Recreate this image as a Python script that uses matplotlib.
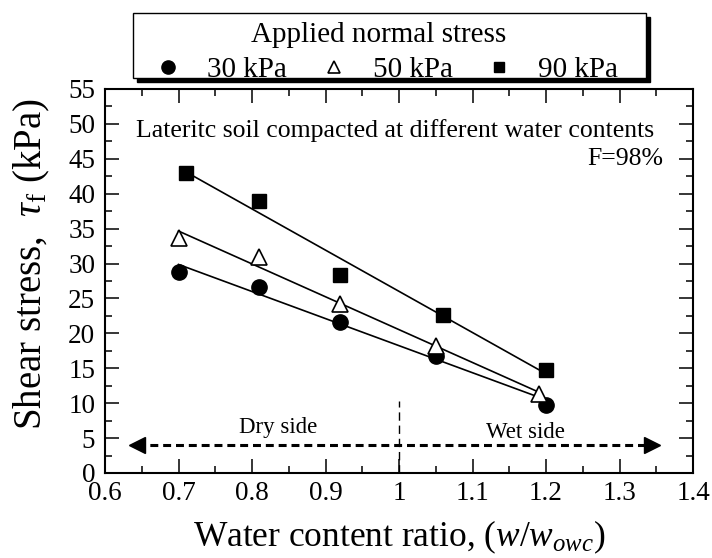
import numpy as np
import matplotlib
matplotlib.use("Agg")
import matplotlib.pyplot as plt
from matplotlib.lines import Line2D
from matplotlib.patches import Rectangle
from matplotlib.ticker import MultipleLocator

plt.rcParams['font.family'] = ['Liberation Serif', 'DejaVu Serif']
plt.rcParams['font.serif'] = ['Liberation Serif', 'DejaVu Serif']
plt.rcParams['mathtext.fontset'] = 'custom'
plt.rcParams['mathtext.rm'] = 'Liberation Serif'
plt.rcParams['mathtext.it'] = 'Liberation Serif:italic'

# Data
x30 = [0.70, 0.81, 0.92, 1.05, 1.20]
y30 = [28.8, 26.6, 21.6, 16.8, 9.8]
x50 = [0.70, 0.81, 0.92, 1.05, 1.19]
y50 = [33.6, 30.9, 24.2, 18.2, 11.3]
x90 = [0.71, 0.81, 0.92, 1.06, 1.20]
y90 = [43.0, 39.0, 28.4, 22.7, 14.7]
labels = ['30 kPa', '50 kPa', '90 kPa']

xticks = [0.6, 0.7, 0.8, 0.9, 1.0, 1.1, 1.2, 1.3, 1.4]
xticklabels = ['0.6', '0.7', '0.8', '0.9', '1', '1.1', '1.2', '1.3', '1.4']
yticks = list(range(0, 56, 5))
yticklabels = [str(v) for v in yticks]

SERIF = 'Liberation Serif'
W, H = 712, 558

fig = plt.figure(figsize=(W/100, H/100), dpi=100)
ax = fig.add_axes([105/W, 1-473/H, (693-105)/W, (473-89)/H])

series = [
    (x30, y30, dict(marker='o', mfc='black', mec='black', ms=11)),
    (x50, y50, dict(marker='^', mfc='white', mec='black', ms=11.5, mew=1.2)),
    (x90, y90, dict(marker='s', mfc='black', mec='black', ms=10)),
]
for xs, ys, st in series:
    xs = np.asarray(xs); ys = np.asarray(ys)
    k, b = np.polyfit(xs, ys, 1)
    xl = np.array([xs.min(), xs.max()])
    ax.plot(xl, k*xl + b, color='black', lw=1.2, zorder=2)
    ax.plot(xs, ys, ls='none', zorder=3, **st)

# dry/wet side arrow
arrow_y = 4.0
ax.plot([0.643, 1.344], [arrow_y, arrow_y], color='black', lw=2.2,
        dashes=(2.6, 1.6), zorder=2)
ax.plot([0.643], [arrow_y], marker='<', color='black', ms=11, ls='none', zorder=3)
ax.plot([1.344], [arrow_y], marker='>', color='black', ms=11, ls='none', zorder=3)
ax.plot([1.0, 1.0], [0, 10.3], color='black', lw=1.0, dashes=(6, 3.5), zorder=2)

ax.text(0.835, 6.45, 'Dry side', fontsize=16.5, ha='center', va='center', family=SERIF)
ax.text(1.1725, 5.8, 'Wet side', fontsize=16.5, ha='center', va='center', family=SERIF)
ax.text(0.995, 49.1, 'Lateritc soil compacted at different water contents',
        fontsize=18.5, ha='center', va='center', family=SERIF)
ax.text(1.359, 45.0, 'F=98%', fontsize=18.5, ha='right', va='center', family=SERIF)

ax.set_xlim(0.6, 1.4)
ax.set_ylim(0, 55)
ax.set_xticks(xticks)
ax.set_xticklabels(xticklabels, fontfamily=SERIF)
ax.set_yticks(yticks)
ax.set_yticklabels(yticklabels, fontfamily=SERIF)
ax.xaxis.set_minor_locator(MultipleLocator(0.05))
ax.yaxis.set_minor_locator(MultipleLocator(2.5))
ax.tick_params(which='both', direction='in', top=True, right=True, width=1.1)
ax.tick_params(which='major', length=10, labelsize=19.5)
ax.tick_params(which='minor', length=5)
ax.tick_params(axis='x', which='major', pad=6)
ax.tick_params(axis='y', which='major', pad=7)
for s in ax.spines.values():
    s.set_linewidth(1.5)

ax.set_xlabel('Water content ratio, $(w/w_{owc})$', fontsize=25.5, labelpad=8.5,
              fontfamily=SERIF)
ax.set_ylabel('Shear stress,  $\\tau_{\\mathrm{f}}$ (kPa)', fontsize=28,
              fontfamily=SERIF)
ax.yaxis.set_label_coords(-0.09, 0.545)

# legend frame with solid shadow (drawn in figure pixels)
lx0, ly0, lx1, ly1 = 133, 13, 646, 78
sh = 4
fig.patches.append(Rectangle(((lx0+sh)/W, 1-(ly1+sh)/H), (lx1-lx0)/W, (ly1-ly0)/H,
                             transform=fig.transFigure, facecolor='black',
                             edgecolor='black', zorder=0))
fig.patches.append(Rectangle((lx0/W, 1-ly1/H), (lx1-lx0)/W, (ly1-ly0)/H,
                             transform=fig.transFigure, facecolor='white',
                             edgecolor='black', lw=1.0, zorder=1))

handles = [
    Line2D([], [], marker='o', mfc='black', mec='black', ms=9.5, ls='none'),
    Line2D([], [], marker='^', mfc='white', mec='black', ms=8, mew=1.2, ls='none'),
    Line2D([], [], marker='s', mfc='black', mec='black', ms=7.5, ls='none'),
]
leg = fig.legend(handles, labels, title='Applied normal stress', ncol=3,
                 loc='upper left', bbox_to_anchor=(lx0/W, 1-16/H),
                 bbox_transform=fig.transFigure, borderaxespad=0,
                 prop={'family': SERIF, 'size': 21},
                 title_fontproperties={'family': SERIF, 'size': 21},
                 frameon=False,
                 handlelength=2.0, handletextpad=0.34, columnspacing=0.6,
                 borderpad=0.2, labelspacing=0.29)
leg.set_zorder(5)

fig.savefig('out.png', dpi=100)
